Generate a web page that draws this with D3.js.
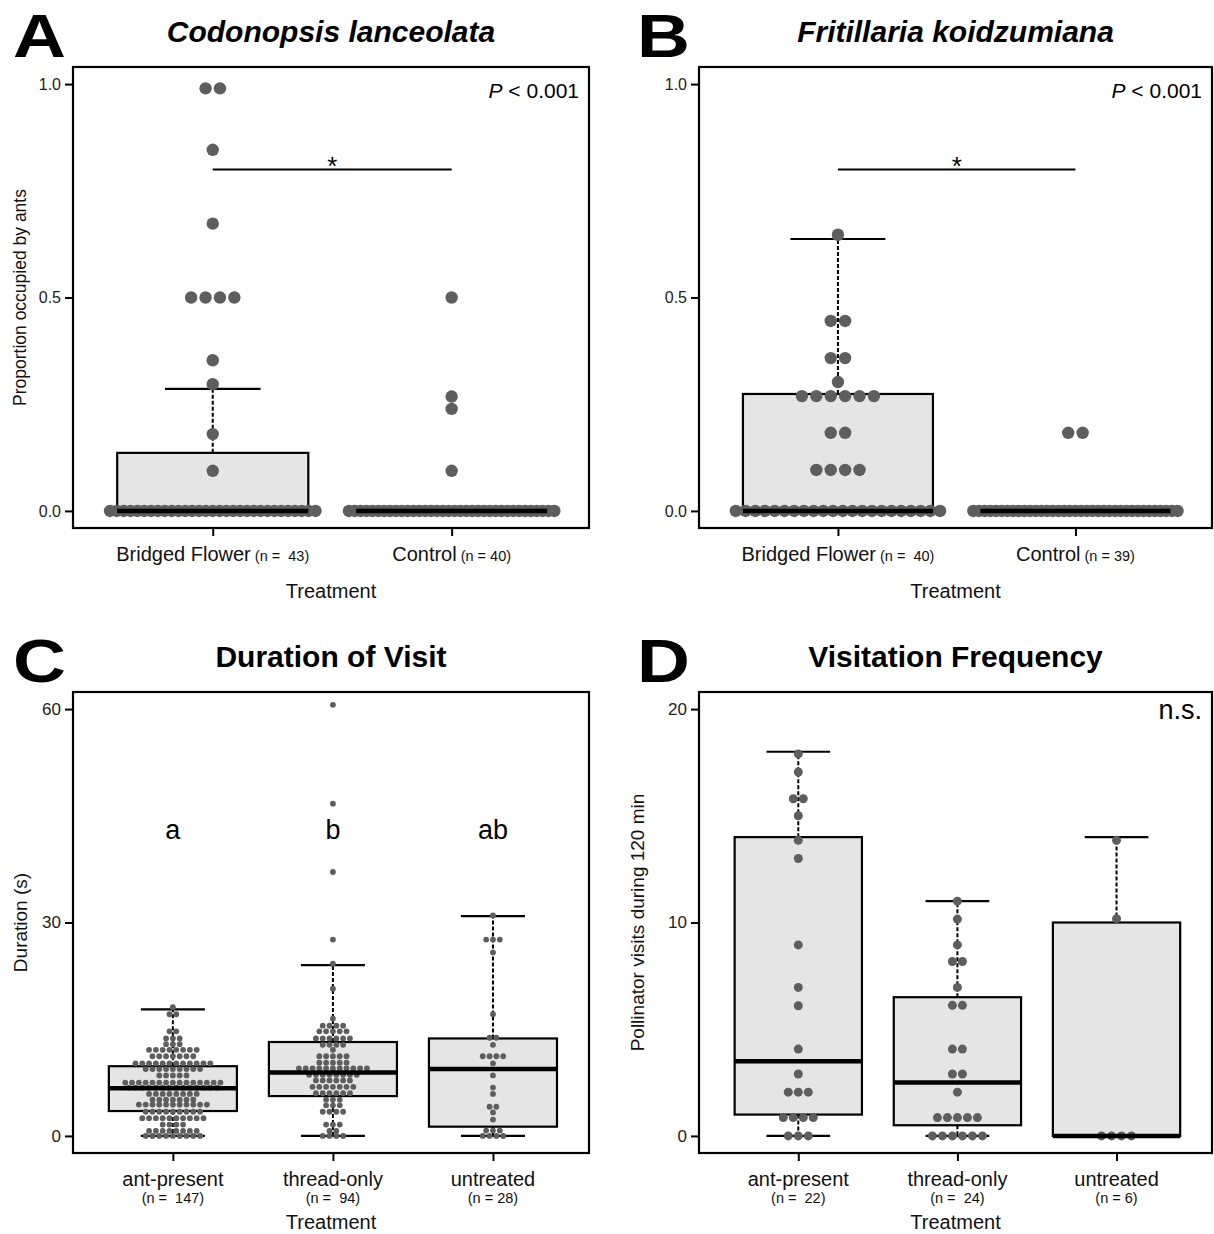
<!DOCTYPE html>
<html>
<head>
<meta charset="utf-8">
<script src="https://cdn.jsdelivr.net/npm/d3@7"></script>
<style>
    body { margin: 0; background: #fff; }
    svg { display: block; font-family: "Liberation Sans", Arial, sans-serif; }
</style>
</head>
<body>
<svg id="fig" width="1214" height="1234"></svg>
<script>
// ---- values ----

// box stats are [lower whisker, Q1, median, Q3, upper whisker]
// dot rows are [value, number of dots at that level]

// A: Codonopsis lanceolata
var codonopsisCats = ["Bridged Flower", "Control"];
var codonopsisN = ["(n =  43)", "(n = 40)"];
var codonopsisStats = [[0, 0, 0, 0.136, 0.286], [0, 0, 0, 0, 0]];
var codonopsisDots = [
    [[0.99, 2], [0.846, 1], [0.673, 1], [0.5, 4], [0.353, 1], [0.297, 1], [0.18, 1], [0.094, 1], [0, 31]],
    [[0.5, 1], [0.268, 1], [0.239, 1], [0.094, 1], [0, 36]]
];

// B: Fritillaria koidzumiana
var fritillariaCats = ["Bridged Flower", "Control"];
var fritillariaN = ["(n =  40)", "(n = 39)"];
var fritillariaStats = [[0, 0, 0, 0.274, 0.637], [0, 0, 0, 0, 0]];
var fritillariaDots = [
    [[0.647, 1], [0.445, 2], [0.358, 2], [0.302, 1], [0.269, 6], [0.183, 2], [0.096, 4], [0, 22]],
    [[0.183, 2], [0, 37]]
];

// C: Duration of visit (s)
var durationCats = ["ant-present", "thread-only", "untreated"];
var durationN = ["(n =  147)", "(n =  94)", "(n = 28)"];
var durationGroups = ["a", "b", "ab"];
var durationStats = [[0, 3.5, 6.7, 9.8, 17.8], [0, 5.6, 8.9, 13.2, 24.0], [0, 1.3, 9.4, 13.7, 30.9]];
var durationDots = [
    [[18.1, 1], [17.1, 2], [14.7, 2], [13.7, 3], [12.9, 3], [12.1, 8], [11.2, 7], [10.2, 12], [9.4, 9],
     [8.5, 5], [7.5, 15], [6.8, 14], [5.9, 8], [5.1, 7], [4.4, 11], [3.4, 9], [2.5, 10], [1.6, 4],
     [0.7, 8], [0, 9]],
    [[60.6, 1], [46.7, 1], [37.1, 1], [27.6, 1], [24.2, 1], [20.7, 1], [16.5, 1], [15.5, 4], [14.7, 5],
     [13.7, 6], [12.8, 4], [12.1, 1], [11.2, 5], [10.3, 5], [9.5, 11], [8.6, 8], [7.8, 6], [6.9, 7],
     [6.0, 6], [5.1, 3], [4.3, 3], [3.4, 4], [1.6, 3], [0.7, 2], [0, 4]],
    [[31.0, 1], [27.6, 3], [25.8, 1], [17.1, 1], [13.8, 2], [12.8, 1], [11.2, 4], [10.2, 1], [8.5, 1],
     [6.8, 1], [5.9, 1], [4.1, 2], [3.3, 1], [2.3, 1], [0.75, 3], [0, 4]]
];

// D: Visitation frequency (visits during 120 min)
var visitsCats = ["ant-present", "thread-only", "untreated"];
var visitsN = ["(n =  22)", "(n =  24)", "(n = 6)"];
var visitsStats = [[0, 1.0, 3.5, 14.0, 18.0], [0, 0.5, 2.5, 6.5, 11.0], [0, 0, 0, 10.0, 14.0]];
var visitsDots = [
    [[17.9, 1], [17.05, 1], [15.8, 2], [15.0, 1], [13.85, 1], [13.0, 1], [8.95, 1], [6.96, 1], [6.1, 1],
     [4.07, 1], [2.9, 1], [2.05, 3], [0.86, 4], [0, 3]],
    [[11.0, 1], [10.16, 1], [8.95, 1], [8.17, 2], [6.96, 1], [6.12, 2], [4.07, 2], [2.9, 2], [2.05, 1],
     [0.86, 5], [0, 6]],
    [[13.85, 1], [10.18, 1], [0, 4]]
];

var figure = (function () {

    "use strict";

    var svg = d3.select("#fig"),
        dotColor = "#5e5e5e",
        boxFill = "#e5e5e5";

    /* spread the dots of one level side by side, squeezed when the row gets too wide */
    function rowOffsets(k, gap, maxWidth) {
        var step = k > 1 ? Math.min(gap, maxWidth / (k - 1)) : 0;
        return d3.range(k).map(function (i) {
            return (i - (k - 1) / 2) * step;
        });
    }

    function drawPanel(p) {

        var g = svg.append("g"),
            x = d3.scaleLinear().domain(p.xDomain).range([p.left, p.right]),
            y = d3.scaleLinear().domain(p.yDomain).range([p.bottom, p.top]),
            cats = d3.range(1, p.cats.length + 1),
            pxPerUnit = x(1) - x(0);

        // axes
        var yAxis = g.append("g")
            .attr("transform", "translate(" + p.left + ",0)")
            .call(d3.axisLeft(y).tickValues(p.yTicks).tickFormat(p.yFormat).tickSize(8).tickPadding(4));
        yAxis.select(".domain").remove();
        yAxis.selectAll("line").attr("stroke", "#000").attr("stroke-width", 2);
        yAxis.selectAll("text")
            .attr("fill", "#222")
            .style("font-size", p.tickSize + "px")
            .style("font-family", "'Liberation Sans', Arial, sans-serif");

        var xAxis = g.append("g")
            .attr("transform", "translate(0," + p.bottom + ")")
            .call(d3.axisBottom(x).tickValues(cats).tickFormat("").tickSize(8));
        xAxis.select(".domain").remove();
        xAxis.selectAll("line").attr("stroke", "#000").attr("stroke-width", 2);

        // boxes and whiskers
        p.stats.forEach(function (s, i) {
            var c = i + 1;
            if (s[4] > s[3]) {
                g.append("line")
                    .attr("x1", x(c)).attr("x2", x(c))
                    .attr("y1", y(s[3])).attr("y2", y(s[4]))
                    .attr("stroke", "#000").attr("stroke-width", 2).attr("stroke-dasharray", "4,2");
                g.append("line")
                    .attr("x1", x(c - 0.2)).attr("x2", x(c + 0.2))
                    .attr("y1", y(s[4])).attr("y2", y(s[4]))
                    .attr("stroke", "#000").attr("stroke-width", 2.2);
            }
            if (s[1] > s[0]) {
                g.append("line")
                    .attr("x1", x(c)).attr("x2", x(c))
                    .attr("y1", y(s[1])).attr("y2", y(s[0]))
                    .attr("stroke", "#000").attr("stroke-width", 2).attr("stroke-dasharray", "4,2");
                g.append("line")
                    .attr("x1", x(c - 0.2)).attr("x2", x(c + 0.2))
                    .attr("y1", y(s[0])).attr("y2", y(s[0]))
                    .attr("stroke", "#000").attr("stroke-width", 2.2);
            }
            g.append("rect")
                .attr("x", x(c - 0.4))
                .attr("y", y(s[3]))
                .attr("width", x(c + 0.4) - x(c - 0.4))
                .attr("height", y(s[1]) - y(s[3]))
                .attr("fill", boxFill)
                .attr("stroke", "#000")
                .attr("stroke-width", 2.2);
        });

        // dots
        p.dots.forEach(function (rows, i) {
            var c = i + 1,
                pts = [];
            rows.forEach(function (r) {
                rowOffsets(r[1], p.dotGap, p.maxRow * pxPerUnit).forEach(function (off) {
                    pts.push({v: r[0], dx: off});
                });
            });
            g.append("g").selectAll("circle")
                .data(pts)
                .enter()
                .append("circle")
                .attr("cx", function (d) { return x(c) + d.dx; })
                .attr("cy", function (d) { return y(d.v); })
                .attr("r", p.dotR)
                .attr("fill", dotColor);
        });

        // medians on top
        p.stats.forEach(function (s, i) {
            var c = i + 1;
            g.append("line")
                .attr("x1", x(c - 0.4)).attr("x2", x(c + 0.4))
                .attr("y1", y(s[2])).attr("y2", y(s[2]))
                .attr("stroke", "#000").attr("stroke-width", 4.5);
        });

        // frame
        g.append("rect")
            .attr("x", p.left).attr("y", p.top)
            .attr("width", p.right - p.left).attr("height", p.bottom - p.top)
            .attr("fill", "none").attr("stroke", "#000").attr("stroke-width", 2.2);

        // category labels
        if (p.cats.length === 2) {
            cats.forEach(function (c, i) {
                var t = g.append("text")
                    .attr("x", x(c)).attr("y", p.bottom + 33)
                    .attr("text-anchor", "middle")
                    .style("white-space", "pre")
                    .attr("fill", "#111");
                t.append("tspan").attr("font-size", 20).text(p.cats[i]);
                t.append("tspan").attr("font-size", 14.5).text(" " + p.ns[i]);
            });
            g.append("text")
                .attr("x", (p.left + p.right) / 2).attr("y", p.bottom + 70)
                .attr("text-anchor", "middle").attr("font-size", 20).attr("fill", "#111")
                .text("Treatment");
        } else {
            cats.forEach(function (c, i) {
                g.append("text")
                    .attr("x", x(c)).attr("y", p.bottom + 33)
                    .attr("text-anchor", "middle").attr("font-size", 20).attr("fill", "#111")
                    .text(p.cats[i]);
                g.append("text")
                    .attr("x", x(c)).attr("y", p.bottom + 50)
                    .attr("text-anchor", "middle").attr("font-size", 14.5).attr("fill", "#111")
                    .style("white-space", "pre")
                    .text(p.ns[i]);
            });
            g.append("text")
                .attr("x", (p.left + p.right) / 2).attr("y", p.bottom + 76)
                .attr("text-anchor", "middle").attr("font-size", 20).attr("fill", "#111")
                .text("Treatment");
        }

        // y title
        if (p.yTitle) {
            g.append("text")
                .attr("transform", "translate(" + p.yTitleX + "," + (p.top + p.bottom) / 2 + ") rotate(-90)")
                .attr("dy", "0.35em")
                .attr("text-anchor", "middle").attr("font-size", p.yTitleSize).attr("fill", "#111")
                .text(p.yTitle);
        }

        // panel letter and title
        g.append("text")
            .attr("transform", "translate(" + p.letterX + "," + (p.top - 10) + ") scale(1.2,1)")
            .attr("font-size", 61).attr("font-weight", "bold")
            .text(p.letter);
        g.append("text")
            .attr("x", (p.left + p.right) / 2).attr("y", p.top - 25)
            .attr("text-anchor", "middle")
            .attr("font-size", 30).attr("font-weight", "bold")
            .attr("font-style", p.italic ? "italic" : "normal")
            .text(p.title);

        // test result in the corner
        if (p.pValue) {
            var pt = g.append("text")
                .attr("x", p.right - 10).attr("y", p.top + 31)
                .attr("text-anchor", "end").attr("font-size", 21);
            pt.append("tspan").attr("font-style", "italic").text("P");
            pt.append("tspan").text(" < 0.001");
        }
        if (p.nsNote) {
            g.append("text")
                .attr("x", p.right - 10).attr("y", p.top + 27)
                .attr("text-anchor", "end").attr("font-size", 27)
                .text(p.nsNote);
        }

        // significance bar
        if (p.sigBar) {
            g.append("line")
                .attr("x1", x(1)).attr("x2", x(2))
                .attr("y1", y(p.sigBar)).attr("y2", y(p.sigBar))
                .attr("stroke", "#000").attr("stroke-width", 2);
            g.append("text")
                .attr("x", x(1.5)).attr("y", y(p.sigBar) + 6)
                .attr("text-anchor", "middle").attr("font-size", 26)
                .text("*");
        }

        // group letters
        if (p.groups) {
            cats.forEach(function (c, i) {
                g.append("text")
                    .attr("x", x(c)).attr("y", y(p.groupsAt))
                    .attr("text-anchor", "middle").attr("font-size", 27)
                    .text(p.groups[i]);
            });
        }
    }

    function render() {

        drawPanel({
            left: 73, right: 589, top: 67, bottom: 528,
            xDomain: [0.415, 2.575], yDomain: [-0.04, 1.04],
            yTicks: [0, 0.5, 1], yFormat: d3.format(".1f"), tickSize: 16,
            cats: codonopsisCats, ns: codonopsisN,
            stats: codonopsisStats, dots: codonopsisDots,
            dotR: 6.2, dotGap: 14.4, maxRow: 0.86,
            letter: "A", letterX: 13, title: "Codonopsis lanceolata", italic: true,
            yTitle: "Proportion occupied by ants", yTitleX: 20, yTitleSize: 17.5,
            pValue: true, sigBar: 0.8
        });

        drawPanel({
            left: 699, right: 1212, top: 67, bottom: 528,
            xDomain: [0.415, 2.575], yDomain: [-0.04, 1.04],
            yTicks: [0, 0.5, 1], yFormat: d3.format(".1f"), tickSize: 16,
            cats: fritillariaCats, ns: fritillariaN,
            stats: fritillariaStats, dots: fritillariaDots,
            dotR: 6.2, dotGap: 14.4, maxRow: 0.86,
            letter: "B", letterX: 637, title: "Fritillaria koidzumiana", italic: true,
            pValue: true, sigBar: 0.8
        });

        drawPanel({
            left: 73, right: 589, top: 692, bottom: 1153,
            xDomain: [0.376, 3.6], yDomain: [-2.4, 62.4],
            yTicks: [0, 30, 60], yFormat: d3.format("d"), tickSize: 17,
            cats: durationCats, ns: durationN,
            stats: durationStats, dots: durationDots,
            dotR: 2.9, dotGap: 6.8, maxRow: 0.8,
            letter: "C", letterX: 13, title: "Duration of Visit", italic: false,
            yTitle: "Duration (s)", yTitleX: 20, yTitleSize: 19,
            groups: durationGroups, groupsAt: 41.8
        });

        drawPanel({
            left: 699, right: 1212, top: 692, bottom: 1153,
            xDomain: [0.376, 3.6], yDomain: [-0.8, 20.8],
            yTicks: [0, 10, 20], yFormat: d3.format("d"), tickSize: 17,
            cats: visitsCats, ns: visitsN,
            stats: visitsStats, dots: visitsDots,
            dotR: 4.5, dotGap: 10, maxRow: 0.8,
            letter: "D", letterX: 637, title: "Visitation Frequency", italic: false,
            yTitle: "Pollinator visits during 120 min", yTitleX: 637, yTitleSize: 19,
            nsNote: "n.s."
        });
    }

    return {
        render: render
    };

}());

figure.render();
</script>
</body>
</html>
